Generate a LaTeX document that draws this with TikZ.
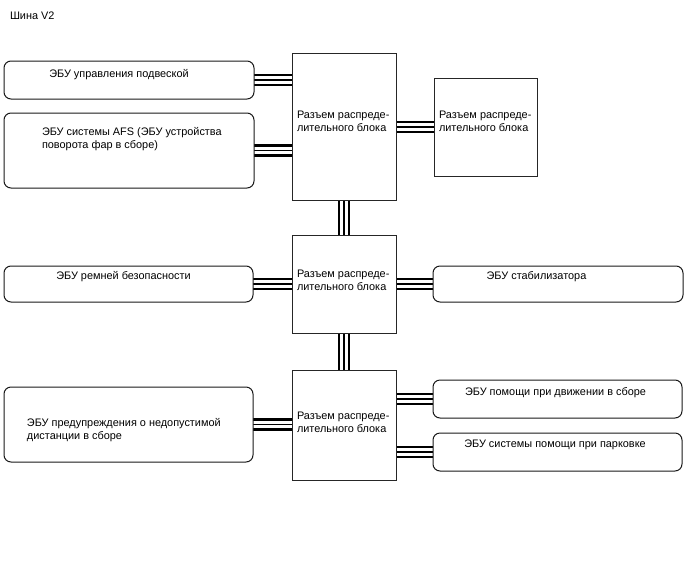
\documentclass[tikz,border=0pt]{standalone}
\usepackage{fontspec}
\setmainfont{Liberation Sans}
\usetikzlibrary{backgrounds}
\begin{document}
\begin{tikzpicture}[x=1pt,y=-1pt,
  every node/.style={inner sep=0pt, outer sep=0pt},
  txt/.style={font=\fontsize{10.9}{12.8}\selectfont, align=left},
  ecu/.style={draw=black!90, line width=1pt, fill=white, rounded corners=7pt},
  hub/.style={draw=black!85, line width=1pt, fill=white},
  conn/.style={line width=12.5pt, draw=black,
    postaction={draw=white, line width=7.6pt},
    postaction={draw=black, line width=1.3pt}}]
\useasboundingbox (0,0) rectangle (688,560);

\node[txt, anchor=base west] (title) at (10,19) {Шина V2};

% boxes
\node[ecu, minimum width=250pt, minimum height=38pt] (A) at (129,80) {};
\node[ecu, minimum width=250pt, minimum height=75pt] (B) at (129,150.5) {};
\node[hub, minimum width=104pt, minimum height=147pt] (c1) at (344,126.5) {};
\node[hub, minimum width=103pt, minimum height=98pt] (R) at (485.5,127) {};

\node[ecu, minimum width=249pt, minimum height=36pt] (C) at (128.5,284) {};
\node[hub, minimum width=104pt, minimum height=98pt] (c2) at (344,284) {};
\node[ecu, minimum width=250pt, minimum height=36pt] (D) at (558,284) {};

\node[ecu, minimum width=249pt, minimum height=75pt] (E) at (128.5,424.5) {};
\node[hub, minimum width=104pt, minimum height=110pt] (c3) at (344,425) {};
\node[ecu, minimum width=249pt, minimum height=38pt] (F) at (557.5,399) {};
\node[ecu, minimum width=249pt, minimum height=38pt] (G) at (557.5,452) {};

% texts (multi-line nodes: base = last line)
\node[txt, anchor=base] (tA) at (119,77) {ЭБУ управления подвеской};
\node[txt, anchor=base west] (tB) at (42,148) {ЭБУ системы AFS (ЭБУ устройства\\поворота фар в сборе)};
\node[txt, anchor=base west] (t1) at (297,131.5) {Разъем распреде-\\лительного блока};
\node[txt, anchor=base west] (tR) at (439,131.5) {Разъем распреде-\\лительного блока};
\node[txt, anchor=base] (tC) at (123.5,279) {ЭБУ ремней безопасности};
\node[txt, anchor=base west] (t2) at (297,290.5) {Разъем распреде-\\лительного блока};
\node[txt, anchor=base] (tD) at (536.5,279) {ЭБУ стабилизатора};
\node[txt, anchor=base west] (tE) at (27,439.5) {ЭБУ предупреждения о недопустимой\\дистанции в сборе};
\node[txt, anchor=base west] (t3) at (297,432.5) {Разъем распреде-\\лительного блока};
\node[txt, anchor=base] (tF) at (555.5,395.5) {ЭБУ помощи при движении в сборе};
\node[txt, anchor=base] (tG) at (555,447.5) {ЭБУ системы помощи при парковке};

% connectors
\begin{pgfonlayer}{background}
\draw[conn] (A.east) -- (A.east -| c1.west);
\draw[conn] (B.east) -- (B.east -| c1.west);
\draw[conn] (R.west) -- (R.west -| c1.east);
\draw[conn] (c1.south) -- (c2.north);
\draw[conn] (C.east) -- (C.east -| c2.west);
\draw[conn] (D.west) -- (D.west -| c2.east);
\draw[conn] (c2.south) -- (c3.north);
\draw[conn] (E.east) -- (E.east -| c3.west);
\draw[conn] (F.west) -- (F.west -| c3.east);
\draw[conn] (G.west) -- (G.west -| c3.east);
\end{pgfonlayer}
\end{tikzpicture}
\end{document}
